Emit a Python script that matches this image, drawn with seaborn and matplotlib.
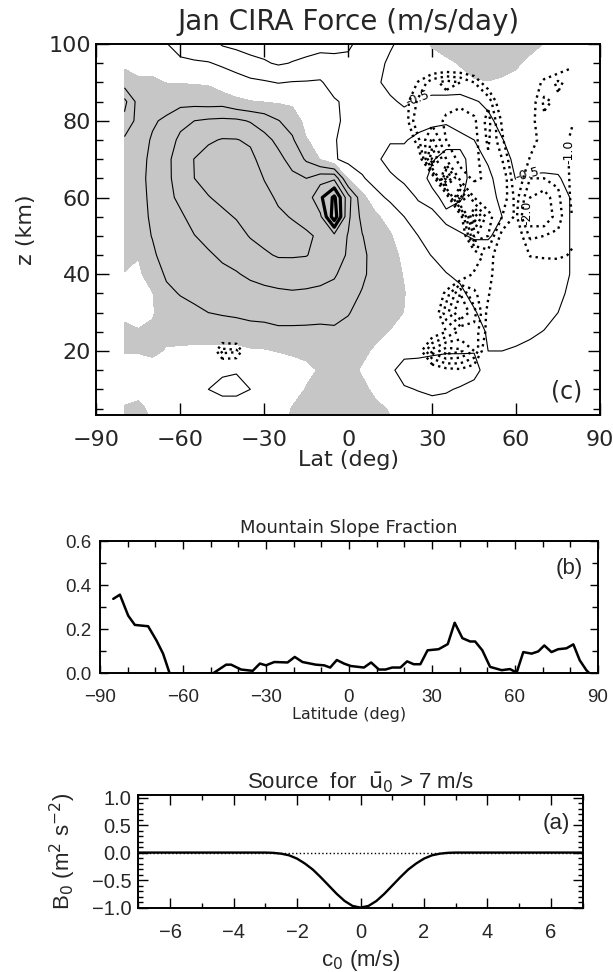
import numpy as np
import pandas as pd
import matplotlib
matplotlib.use("Agg")
import matplotlib.pyplot as plt
import seaborn as sns
from matplotlib.ticker import MultipleLocator

sns.set_theme(style="white")
plt.rcParams['font.family'] = ['DejaVu Sans']
plt.rcParams['axes.unicode_minus'] = True
plt.rcParams['lines.dotted_pattern'] = [1.0, 1.7]

# ---------------- panel (c): grid of force values ----------------
LAT = [-80, -75, -70, -65, -60, -55, -50, -45, -40, -35, -30, -25, -20, -15, -10, -5, 0,
       5, 10, 15, 20, 25, 30, 35, 40, 45, 50, 55, 60, 65, 70, 75, 80]
Z = [100, 95, 90, 85, 80, 75, 70, 65, 60, 55, 50, 45, 40, 35, 30, 25, 20, 15, 10, 5, 0]

# solid / shaded field, one list per latitude (values from z=100 down to z=0)
S_COLS = [
    [-0.25, -0.11, 0.25, 1.14, 0.875, 0.42, 0.3, 0.3, 0.3, 0.3, 0.3, 0.2, -0.03, -0.17, -0.08, 0.08, 0.03, -0.25, -0.25, 0.05, 0.15],
    [-0.25, -0.11, 0.05, 0.3, 0.32, 0.33, 0.35, 0.34, 0.32, 0.31, 0.3, 0.03, -0.11, -0.15, -0.15, 0.03, 0.04, -0.25, -0.07, 0.05, 0.12],
    [-0.3, -0.11, 0.05, 0.3, 0.45, 0.54, 0.6, 0.65, 0.62, 0.58, 0.52, 0.42, 0.3, -0.02, -0.05, 0.1, 0.1, -0.2, -0.2, -0.05, 0.0],
    [-0.48, -0.2, -0.01, 0.32, 0.57, 0.72, 0.85, 0.87, 0.87, 0.85, 0.78, 0.7, 0.55, 0.42, 0.3, 0.13, -0.04, -0.25, -0.25, -0.2, -0.15],
    [-0.7, -0.4, -0.02, 0.35, 0.84, 1.12, 1.3, 1.24, 1.1, 0.93, 0.82, 0.7, 0.61, 0.52, 0.37, 0.16, -0.06, -0.25, -0.25, -0.2, -0.2],
    [-0.75, -0.45, -0.04, 0.33, 1.0, 1.26, 1.51, 1.5, 1.34, 1.16, 0.99, 0.86, 0.73, 0.6, 0.42, 0.17, -0.09, -0.25, -0.25, -0.2, -0.2],
    [-0.75, -0.48, -0.06, 0.29, 1.07, 1.44, 1.67, 1.65, 1.48, 1.3, 1.12, 0.95, 0.8, 0.65, 0.5, 0.19, -0.1, -0.32, -0.5, -0.25, -0.2],
    [-1.05, -0.55, -0.3, 0.3, 1.1, 1.53, 1.71, 1.81, 1.6, 1.41, 1.24, 1.07, 0.9, 0.72, 0.55, 0.22, -0.1, -0.43, -0.62, -0.28, -0.2],
    [-1.15, -0.65, -0.35, 0.1, 1.09, 1.52, 1.71, 1.87, 1.74, 1.53, 1.34, 1.15, 0.97, 0.79, 0.6, 0.22, -0.11, -0.47, -0.62, -0.28, -0.2],
    [-1.2, -0.85, -0.4, 0.02, 0.96, 1.43, 1.62, 1.77, 1.79, 1.66, 1.53, 1.3, 1.07, 0.85, 0.63, 0.33, -0.06, -0.33, -0.5, -0.25, -0.2],
    [-1.2, -0.95, -0.45, -0.02, 0.8, 1.13, 1.31, 1.48, 1.64, 1.8, 1.63, 1.44, 1.15, 0.89, 0.65, 0.35, -0.04, -0.3, -0.35, -0.27, -0.2],
    [-1.25, -1.05, -0.52, -0.06, 0.52, 0.9, 1.11, 1.27, 1.43, 1.58, 1.72, 1.54, 1.23, 0.92, 0.67, 0.42, 0.02, -0.3, -0.3, -0.25, -0.2],
    [-1.2, -0.98, -0.48, -0.1, 0.28, 0.57, 0.86, 1.09, 1.28, 1.47, 1.66, 1.54, 1.25, 0.95, 0.69, 0.41, 0.07, -0.2, -0.2, 0.03, 0.15],
    [-1.2, -0.9, -0.47, -0.3, -0.15, 0.02, 0.43, 1.0, 1.2, 1.39, 1.55, 1.52, 1.22, 0.93, 0.67, 0.41, 0.13, -0.12, 0.03, 0.15, 0.25],
    [-1.15, -0.82, -0.45, -0.36, -0.25, -0.12, -0.02, 1.3, 1.9, 1.4, 1.45, 1.35, 1.15, 0.9, 0.65, 0.4, 0.2, 0.05, 0.25, 0.35, 0.4],
    [-1.15, -0.85, -0.7, -0.45, -0.42, -0.47, -0.45, 1.4, 2.6, 2.8, 1.35, 1.2, 1.05, 0.85, 0.6, 0.45, 0.3, 0.25, 0.3, 0.4, 0.45],
    [-1.1, -0.85, -0.75, -0.6, -0.6, -0.65, -0.65, -0.05, 1.2, 1.1, 0.97, 0.95, 0.8, 0.65, 0.52, 0.4, 0.3, 0.15, 0.3, 0.4, 0.45],
    [-0.8, -0.75, -0.75, -0.75, -0.75, -0.75, -0.7, -0.45, 0.15, 0.35, 0.52, 0.6, 0.58, 0.47, 0.38, 0.27, 0.1, -0.05, 0.1, 0.25, 0.35],
    [-0.75, -0.75, -0.6, -0.75, -0.75, -0.8, -0.9, -0.7, -0.35, 0.08, 0.2, 0.3, 0.32, 0.3, 0.25, 0.12, -0.08, -0.25, -0.1, 0.08, 0.2],
    [-0.6, -0.35, -0.3, -0.6, -0.75, -0.95, -1.2, -0.9, -0.6, -0.2, 0.05, 0.15, 0.2, 0.2, 0.15, -0.02, -0.25, -0.4, -0.45, -0.03, 0.05],
    [-0.25, -0.25, -0.25, -0.4, -0.75, -0.95, -1.2, -1.1, -0.75, -0.5, -0.3, -0.1, -0.03, 0.02, -0.01, -0.25, -0.35, -0.7, -0.45, -0.25, -0.2],
    [-0.2, -0.25, -0.3, -0.55, -0.75, -1.15, -1.3, -1.25, -1.05, -0.75, -0.5, -0.35, -0.25, -0.25, -0.25, -0.25, -0.35, -0.75, -0.52, -0.3, -0.25],
    [0.05, -0.2, -0.3, -0.6, -0.9, -1.2, -1.05, -0.85, -1.15, -0.9, -0.75, -0.52, -0.3, -0.25, -0.25, -0.25, -0.4, -0.8, -0.6, -0.3, -0.25],
    [0.3, -0.15, -0.3, -0.6, -0.95, -1.2, -0.8, -0.7, -0.85, -1.1, -0.85, -0.7, -0.48, -0.3, -0.25, -0.25, -0.45, -0.8, -0.55, -0.3, -0.25],
    [0.4, 0.05, -0.25, -0.65, -0.85, -1.1, -0.9, -0.8, -0.95, -1.2, -0.95, -0.75, -0.6, -0.4, -0.3, -0.25, -0.45, -0.8, -0.45, -0.28, -0.25],
    [0.5, 0.2, -0.05, -0.55, -0.75, -1.0, -1.15, -1.2, -1.2, -1.15, -1.05, -0.8, -0.75, -0.65, -0.45, -0.3, -0.48, -0.65, -0.35, -0.25, -0.25],
    [0.5, 0.25, -0.02, -0.4, -0.6, -0.8, -0.95, -1.1, -1.15, -1.1, -1.05, -0.8, -0.75, -0.75, -0.72, -0.55, -0.5, -0.3, -0.25, -0.25, -0.25],
    [0.45, 0.2, -0.08, -0.3, -0.35, -0.52, -0.75, -0.8, -0.9, -1.0, -0.85, -0.75, -0.75, -0.75, -0.75, -0.65, -0.5, -0.3, -0.25, -0.25, -0.25],
    [0.35, 0.08, -0.15, -0.25, -0.25, -0.3, -0.35, -0.48, -0.7, -0.75, -0.75, -0.75, -0.75, -0.75, -0.75, -0.65, -0.45, -0.25, -0.25, -0.25, -0.25],
    [0.2, -0.15, -0.25, -0.25, -0.25, -0.25, -0.35, -0.55, -0.75, -0.75, -0.75, -0.75, -0.75, -0.75, -0.75, -0.6, -0.35, -0.25, -0.25, -0.25, -0.25],
    [-0.02, -0.25, -0.25, -0.25, -0.25, -0.25, -0.3, -0.58, -0.75, -0.75, -0.75, -0.75, -0.75, -0.75, -0.7, -0.48, -0.3, -0.25, -0.25, -0.25, -0.25],
    [-0.25, -0.25, -0.25, -0.25, -0.25, -0.25, -0.3, -0.55, -0.75, -0.75, -0.75, -0.75, -0.75, -0.65, -0.5, -0.3, -0.25, -0.25, -0.25, -0.25, -0.25],
    [-0.25, -0.25, -0.25, -0.25, -0.25, -0.25, -0.3, -0.3, -0.45, -0.45, -0.45, -0.45, -0.45, -0.35, -0.25, -0.25, -0.25, -0.25, -0.25, -0.25, -0.25],
]

# dotted field, one list per height (z=100 first), latitudes -80..80
D_ROWS = [
    [0, 0, 0, 0, 0, 0, 0, 0, 0, 0, 0, 0, 0, 0, 0, 0, 0, 0, 0, 0, 0, 0, 0, 0, 0, 0, 0, 0, 0, 0, 0, 0, 0],
    [0, 0, 0, 0, 0, 0, 0, 0, 0, 0, 0, 0, 0, 0, 0, 0, 0, 0, 0, 0, 0, 0, 0, 0, 0, 0, 0, 0, 0, 0, 0, -0.3, -0.9],
    [0, 0, 0, 0, 0, 0, 0, 0, 0, 0, 0, 0, 0, 0, 0, 0, 0, 0, 0, 0, -0.3, -1.05, -1.8, -2.2, -2.0, -1.5, -0.5, 0, 0, -0.3, -1.2, -1.6, -1.3],
    [0, 0, 0, 0, 0, 0, 0, 0, 0, 0, 0, 0, 0, 0, 0, 0, 0, 0, 0, 0, -0.7, -1.6, -1.9, -1.7, -1.6, -1.8, -1.9, -0.3, 0, -0.6, -1.6, -1.4, -1.1],
    [0, 0, 0, 0, 0, 0, 0, 0, 0, 0, 0, 0, 0, 0, 0, 0, 0, 0, 0, 0, -0.6, -2.0, -1.8, -1.4, -1.3, -1.4, -2.2, -0.9, 0, -0.8, -1.4, -1.2, -1.05],
    [0, 0, 0, 0, 0, 0, 0, 0, 0, 0, 0, 0, 0, 0, 0, 0, 0, 0, 0, 0, 0, -1.4, -2.6, -1.5, -1.2, -1.3, -2.1, -1.1, 0, -0.7, -1.3, -1.3, -0.9],
    [0, 0, 0, 0, 0, 0, 0, 0, 0, 0, 0, 0, 0, 0, 0, 0, 0, 0, 0, 0, 0, -0.2, -3.6, -2.0, -1.3, -1.3, -1.9, -1.5, -0.3, -1.05, -1.3, -1.3, -0.9],
    [0, 0, 0, 0, 0, 0, 0, 0, 0, 0, 0, 0, 0, 0, 0, 0, 0, 0, 0, 0, 0, 0, -0.3, -3.8, -1.8, -1.4, -1.6, -2.0, -0.5, -1.5, -1.5, -1.4, -0.9],
    [0, 0, 0, 0, 0, 0, 0, 0, 0, 0, 0, 0, 0, 0, 0, 0, 0, 0, 0, 0, 0, 0, 0, -0.3, -3.8, -2.0, -1.6, -1.9, -0.8, -2.0, -2.3, -1.6, -0.9],
    [0, 0, 0, 0, 0, 0, 0, 0, 0, 0, 0, 0, 0, 0, 0, 0, 0, 0, 0, 0, 0, 0, 0, 0, -0.6, -3.9, -2.2, -1.5, -0.9, -2.4, -2.5, -1.7, -1.0],
    [0, 0, 0, 0, 0, 0, 0, 0, 0, 0, 0, 0, 0, 0, 0, 0, 0, 0, 0, 0, 0, 0, 0, 0, 0, -2.6, -2.0, -0.8, -0.5, -1.6, -1.5, -1.4, -1.1],
    [0, 0, 0, 0, 0, 0, 0, 0, 0, 0, 0, 0, 0, 0, 0, 0, 0, 0, 0, 0, 0, 0, 0, 0, 0, -0.5, -1.3, -0.5, 0, -1.05, -1.1, -1.1, -0.95],
    [0, 0, 0, 0, 0, 0, 0, 0, 0, 0, 0, 0, 0, 0, 0, 0, 0, 0, 0, 0, 0, 0, 0, 0, -0.3, -1.1, -1.3, -0.3, 0, -0.3, -0.5, -0.6, -0.6],
    [0, 0, 0, 0, 0, 0, 0, 0, 0, 0, 0, 0, 0, 0, 0, 0, 0, 0, 0, 0, 0, 0, 0, -1.2, -2.5, -1.6, -1.1, 0, 0, 0, 0, 0, 0],
    [0, 0, 0, 0, 0, 0, 0, 0, 0, 0, 0, 0, 0, 0, 0, 0, 0, 0, 0, 0, 0, 0, -0.3, -1.8, -3.0, -2.2, -0.8, 0, 0, 0, 0, 0, 0],
    [0, 0, 0, 0, 0, 0, 0, 0, 0, 0, 0, 0, 0, 0, 0, 0, 0, 0, 0, 0, 0, 0, -0.5, -1.0, -1.6, -1.8, -0.8, 0, 0, 0, 0, 0, 0],
    [0, 0, 0, 0, 0, 0, 0, -1.7, -1.6, 0, 0, 0, 0, 0, 0, 0, 0, 0, 0, 0, 0, -0.6, -2.2, -2.8, -2.6, -2.0, -0.2, 0, 0, 0, 0, 0, 0],
    [0, 0, 0, 0, 0, 0, 0, 0, 0, 0, 0, 0, 0, 0, 0, 0, 0, 0, 0, 0, 0, 0, -0.5, -0.8, -0.9, -0.6, 0, 0, 0, 0, 0, 0, 0],
    [0, 0, 0, 0, 0, 0, 0, 0, 0, 0, 0, 0, 0, 0, 0, 0, 0, 0, 0, 0, 0, 0, 0, 0, 0, 0, 0, 0, 0, 0, 0, 0, 0],
    [0, 0, 0, 0, 0, 0, 0, 0, 0, 0, 0, 0, 0, 0, 0, 0, 0, 0, 0, 0, 0, 0, 0, 0, 0, 0, 0, 0, 0, 0, 0, 0, 0],
    [0, 0, 0, 0, 0, 0, 0, 0, 0, 0, 0, 0, 0, 0, 0, 0, 0, 0, 0, 0, 0, 0, 0, 0, 0, 0, 0, 0, 0, 0, 0, 0, 0],
]

THIN_LEVELS = [-1.0, 0.5, 1.0, 1.5]
LABEL_LEVEL = [-0.5]
THICK_LEVELS = [2.0, 2.5]
DOT_LEVELS = [-3.5, -3.0, -2.5, -1.5]
DOT_LABEL_A = [-1.0]
DOT_LABEL_B = [-2.0]

# ---------------- panel (b): mountain slope fraction ----------------
LAT_B = [-85.2, -82.8, -79.8, -77.4, -72.6, -69.6, -67.2, -64.8, -49.2, -44.4, -42.6, -39.0,
         -34.8, -32.2, -30.0, -27.0, -22.2, -19.6, -16.8, -12.0, -9.0, -6.8, -4.4, -1.8, 0.6,
         5.4, 8.0, 10.8, 13.2, 15.6, 18.6, 21.0, 23.4, 25.8, 28.4, 32.4, 35.7, 38.2, 41.0, 43.8,
         45.6, 48.2, 51.0, 55.2, 58.2, 60.6, 63.0, 66.0, 68.4, 70.6, 73.2, 75.6, 78.6, 81.1,
         83.4, 85.8, 87.0]
FRAC_B = [0.338, 0.357, 0.262, 0.22, 0.214, 0.15, 0.09, 0.0, 0.0, 0.04, 0.04, 0.018,
          0.012, 0.045, 0.037, 0.052, 0.05, 0.075, 0.052, 0.04, 0.037, 0.027, 0.061, 0.045, 0.034,
          0.027, 0.05, 0.018, 0.018, 0.027, 0.027, 0.055, 0.042, 0.042, 0.105, 0.11, 0.133, 0.23,
          0.16, 0.145, 0.145, 0.105, 0.03, 0.015, 0.02, 0.004, 0.097, 0.09, 0.1, 0.127, 0.097,
          0.11, 0.114, 0.132, 0.06, 0.015, 0.0]

# ---------------- panel (a): source spectrum ----------------
C0 = [-7, -3, -2.75, -2.5, -2.25, -2.0, -1.75, -1.5, -1.25, -1.0, -0.75, -0.5, -0.25, 0,
      0.25, 0.5, 0.75, 1.0, 1.25, 1.5, 1.75, 2.0, 2.25, 2.5, 2.75, 3, 7]
B0 = [0, 0, -0.005, -0.02, -0.05, -0.11, -0.2, -0.31, -0.45, -0.6, -0.75, -0.88, -0.97, -1.0,
      -0.97, -0.88, -0.75, -0.6, -0.45, -0.31, -0.2, -0.11, -0.05, -0.02, -0.005, 0, 0]

SHADE = '#c6c6c6'
SANS = ['Liberation Sans', 'DejaVu Sans']

fig = plt.figure(figsize=(6.13, 9.72), dpi=100)


def ticks_in(ax, major=8, minor=4):
    ax.tick_params(which='both', direction='in', top=True, right=True,
                   bottom=True, left=True, color='black', width=1.0)
    ax.tick_params(which='major', length=major)
    ax.tick_params(which='minor', length=minor)
    for s in ax.spines.values():
        s.set_linewidth(1.4)
        s.set_color('black')


# ---- panel c
axc = fig.add_axes([0.1574, 0.5730, 0.8214, 0.3817])
S = np.array(S_COLS).T[::-1]
D = np.array(D_ROWS, dtype=float)[::-1]
ZA = Z[::-1]
X, Y = np.meshgrid(LAT, ZA)
axc.contourf(X, Y, S, levels=[0, 100], colors=[SHADE])
axc.contour(X, Y, S, levels=THIN_LEVELS, colors='black', linewidths=0.8, linestyles='solid')
cs_lab = axc.contour(X, Y, S, levels=LABEL_LEVEL, colors='black', linewidths=0.8,
                     linestyles='solid')
axc.contour(X, Y, S, levels=THICK_LEVELS, colors='black', linewidths=2.3, linestyles='solid')
axc.contour(X, Y, D, levels=DOT_LEVELS, colors='black', linewidths=1.7, linestyles='dotted')
cs_d1 = axc.contour(X, Y, D, levels=DOT_LABEL_A, colors='black', linewidths=1.7,
                    linestyles='dotted')
cs_d2 = axc.contour(X, Y, D, levels=DOT_LABEL_B, colors='black', linewidths=1.7,
                    linestyles='dotted')
axc.clabel(cs_lab, manual=[(24, 87), (64, 66)], fmt='%.1f', fontsize=9, inline=True,
           inline_spacing=2)
axc.clabel(cs_d1, manual=[(77, 72)], fmt='%.1f', fontsize=9, inline=True, inline_spacing=2)
axc.clabel(cs_d2, manual=[(64, 56)], fmt='%.1f', fontsize=9, inline=True, inline_spacing=2)
axc.set_xlim(-90, 90)
axc.set_ylim(3.3, 100)
axc.set_xticks([-90, -60, -30, 0, 30, 60, 90])
axc.set_yticks([20, 40, 60, 80, 100])
axc.yaxis.set_minor_locator(MultipleLocator(5))
ticks_in(axc, major=9, minor=5)
axc.tick_params(labelsize=16)
axc.tick_params(axis='x', pad=11)
axc.tick_params(axis='y', pad=4)
axc.set_xlabel('Lat (deg)', fontsize=16, labelpad=0)
axc.set_ylabel('z (km)', fontsize=16, labelpad=9)
axc.set_title('Jan CIRA Force (m/s/day)', fontsize=20, pad=10)
axc.text(0.965, 0.03, '(c)', transform=axc.transAxes, ha='right', va='bottom', fontsize=17)

# ---- panel b
axb = fig.add_axes([0.1631, 0.3071, 0.8124, 0.1363])
dfb = pd.DataFrame({'lat': LAT_B, 'frac': FRAC_B})
sns.lineplot(data=dfb, x='lat', y='frac', ax=axb, color='black', linewidth=1.8,
             estimator=None, sort=False)
axb.set_xlim(-90, 90)
axb.set_ylim(0, 0.6)
axb.set_xticks([-90, -60, -30, 0, 30, 60, 90])
axb.xaxis.set_minor_locator(MultipleLocator(10))
axb.set_yticks([0.0, 0.2, 0.4, 0.6])
axb.set_yticklabels(['0.0', '0.2', '0.4', '0.6'])
axb.yaxis.set_minor_locator(MultipleLocator(0.1))
ticks_in(axb, major=6, minor=4)
for lab in axb.get_xticklabels() + axb.get_yticklabels():
    lab.set_family(SANS)
axb.tick_params(labelsize=13.5)
axb.tick_params(axis='x', pad=11)
axb.tick_params(axis='y', pad=6)
axb.set_xlabel('Latitude (deg)', fontsize=11.5, labelpad=1)
axb.set_ylabel('')
axb.set_title('Mountain Slope Fraction', fontsize=13, pad=6)
axb.text(0.97, 0.79, '(b)', transform=axb.transAxes, ha='right', va='center', fontsize=16,
         family=SANS)

# ---- panel a
axa = fig.add_axes([0.2256, 0.0657, 0.7250, 0.1166])
dfa = pd.DataFrame({'c0': C0, 'B0': B0})
axa.axhline(0, color='black', linewidth=1.0, linestyle='dotted')
sns.lineplot(data=dfa, x='c0', y='B0', ax=axa, color='black', linewidth=1.7,
             estimator=None, sort=False)
axa.set_xlim(-7, 7)
axa.set_ylim(-1.01, 1.05)
axa.set_xticks([-6, -4, -2, 0, 2, 4, 6])
axa.xaxis.set_minor_locator(MultipleLocator(1))
axa.set_yticks([-1.0, -0.5, 0.0, 0.5, 1.0])
axa.set_yticklabels(['\u22121.0', '\u22120.5', '0.0', '0.5', '1.0'])
axa.yaxis.set_minor_locator(MultipleLocator(0.1))
ticks_in(axa, major=7, minor=3.5)
for lab in axa.get_xticklabels() + axa.get_yticklabels():
    lab.set_family(SANS)
axa.tick_params(labelsize=14.5)
axa.tick_params(axis='x', pad=11)
axa.tick_params(axis='y', pad=5)
axa.set_xlabel(r'c$_0$ (m/s)', fontsize=16, family=SANS, labelpad=4)
axa.set_ylabel(r'B$_0$ (m$^2$ s$^{-2}$)', fontsize=16, family=SANS, labelpad=10)
axa.set_title(r'Source  for  $\bar{\mathrm{u}}_0$ > 7 m/s', fontsize=16, family=SANS, pad=3)
axa.text(0.971, 0.75, '(a)', transform=axa.transAxes, ha='right', va='center', fontsize=16,
         family=SANS)

fig.savefig('out.png', dpi=100)
